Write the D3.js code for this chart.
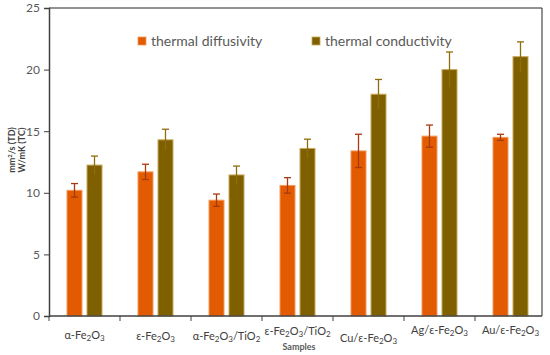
<!DOCTYPE html>
<html>
<head>
<meta charset="utf-8">
<script src="https://cdn.jsdelivr.net/npm/d3@7"></script>
<style>
  body { margin: 0; background: #fff; }
  text { font-family: Lato, "Open Sans", sans-serif; }
</style>
</head>
<body>
<div id="chart"></div>
<script>
// samples, as [text, subscript?] pieces
const samples = [
  [['α-Fe', ''], ['2', 'sub'], ['O', ''], ['3', 'sub']],
  [['ε-Fe', ''], ['2', 'sub'], ['O', ''], ['3', 'sub']],
  [['α-Fe', ''], ['2', 'sub'], ['O', ''], ['3', 'sub'], ['/TiO', ''], ['2', 'sub']],
  [['ε-Fe', ''], ['2', 'sub'], ['O', ''], ['3', 'sub'], ['/TiO', ''], ['2', 'sub']],
  [['Cu/ε-Fe', ''], ['2', 'sub'], ['O', ''], ['3', 'sub']],
  [['Ag/ε-Fe', ''], ['2', 'sub'], ['O', ''], ['3', 'sub']],
  [['Au/ε-Fe', ''], ['2', 'sub'], ['O', ''], ['3', 'sub']]
];
const diffusivity    = [10.2, 11.7, 9.4, 10.6, 13.4, 14.6, 14.5];
const diffusivityErr = [0.55, 0.62, 0.5, 0.63, 1.35, 0.9, 0.25];
const conductivity    = [12.25, 14.3, 11.45, 13.6, 18.0, 20.0, 21.05];
const conductivityErr = [0.73, 0.86, 0.72, 0.75, 1.2, 1.43, 1.2];
const seriesNames = ['thermal diffusivity', 'thermal conductivity'];
const yTicks = [0, 5, 10, 15, 20, 25];

const WIDTH = 550;
const HEIGHT = 355;
const colors = ['#e35b00', '#7f6000'];
const edges = ['#f39a5c', '#c9a85a'];
const errColors = ['#a83a10', '#8f6c0c'];
// small vertical shifts of the category labels, as in the picture
const labelDy = [0, 1, 1, -4, 3, -5, -5];

const svg = d3.select('#chart').append('svg')
  .attr('width', WIDTH)
  .attr('height', HEIGHT);

const x0 = d3.scaleBand().domain(d3.range(samples.length)).range([49, 546]);
const x1 = d3.scaleBand().domain([0, 1]).range([0, 36]).paddingInner(0.2);
const y = d3.scaleLinear().domain([0, 25]).range([316, 8]);

// plot frame (top and right)
svg.append('path')
  .attr('d', `M49,${y(25)}H542V${y(0)}`)
  .attr('fill', 'none')
  .attr('stroke', '#262626')
  .attr('stroke-width', 1);

const rows = samples.map((s, i) => ({
  i,
  vals: [
    { k: 0, v: diffusivity[i], e: diffusivityErr[i] },
    { k: 1, v: conductivity[i], e: conductivityErr[i] }
  ]
}));

const groups = svg.selectAll('.grp')
  .data(rows)
  .enter().append('g')
    .attr('class', 'grp')
    .attr('transform', d => `translate(${x0(d.i) + (x0.bandwidth() - 36) / 2},0)`);

groups.selectAll('rect')
  .data(d => d.vals)
  .enter().append('rect')
    .attr('x', d => x1(d.k) + 0.5)
    .attr('y', d => y(d.v))
    .attr('width', x1.bandwidth() - 1)
    .attr('height', d => y(0) - y(d.v))
    .attr('fill', d => colors[d.k])
    .attr('stroke', d => edges[d.k])
    .attr('stroke-width', 1);

const err = groups.selectAll('.err')
  .data(d => d.vals)
  .enter().append('g')
    .attr('class', 'err')
    .attr('stroke', d => errColors[d.k])
    .attr('stroke-width', 1.3);

err.append('line')
  .attr('x1', d => x1(d.k) + x1.bandwidth() / 2)
  .attr('x2', d => x1(d.k) + x1.bandwidth() / 2)
  .attr('y1', d => y(d.v + d.e))
  .attr('y2', d => y(d.v - d.e));
err.append('line')
  .attr('x1', d => x1(d.k) + x1.bandwidth() / 2 - 3.5)
  .attr('x2', d => x1(d.k) + x1.bandwidth() / 2 + 3.5)
  .attr('y1', d => y(d.v + d.e))
  .attr('y2', d => y(d.v + d.e));
err.filter(d => d.k === 0).append('line')
  .attr('x1', d => x1(d.k) + x1.bandwidth() / 2 - 3.5)
  .attr('x2', d => x1(d.k) + x1.bandwidth() / 2 + 3.5)
  .attr('y1', d => y(d.v - d.e))
  .attr('y2', d => y(d.v - d.e));

// y axis
const yAxis = svg.append('g')
  .attr('transform', 'translate(49,0)')
  .call(d3.axisLeft(y).tickValues(yTicks).tickSize(5).tickPadding(4));
yAxis.select('.domain').attr('stroke', '#404040').attr('stroke-width', 1.5);
yAxis.selectAll('.tick line').attr('stroke', '#404040');
yAxis.selectAll('.tick text')
  .attr('fill', '#595959')
  .style('font-size', '12px')
  .style('font-family', 'Lato, "Open Sans", sans-serif');

// x axis
const xAxis = svg.append('g')
  .attr('transform', `translate(0,${y(0)})`)
  .call(d3.axisBottom(x0).tickSize(0).tickFormat(''));
xAxis.select('.domain').attr('stroke', '#404040').attr('stroke-width', 1.5)
  .attr('d', `M49,0H542`);
svg.append('g').selectAll('line')
  .data(d3.range(samples.length))
  .enter().append('line')
    .attr('x1', i => x0(i))
    .attr('x2', i => x0(i))
    .attr('y1', y(0))
    .attr('y2', y(0) + 5)
    .attr('stroke', '#404040');

const lbl = svg.append('g').selectAll('text')
  .data(samples)
  .enter().append('text')
    .attr('x', (d, i) => x0(i) + x0.bandwidth() / 2)
    .attr('y', (d, i) => 339 + labelDy[i])
    .attr('text-anchor', 'middle')
    .attr('fill', '#404040')
    .style('font-size', '11px');
lbl.selectAll('tspan')
  .data(d => d)
  .enter().append('tspan')
    .attr('baseline-shift', p => p[1] === 'sub' ? '-20%' : null)
    .style('font-size', p => p[1] === 'sub' ? '8px' : null)
    .text(p => p[0]);

// axis titles
svg.append('text')
  .attr('x', 299).attr('y', 350)
  .attr('text-anchor', 'middle')
  .attr('fill', '#595959')
  .style('font-size', '9px')
  .style('font-weight', 'bold')
  .text('Samples');

const yTitle = svg.append('text')
  .attr('transform', 'translate(12,150) rotate(-90)')
  .attr('text-anchor', 'middle')
  .attr('fill', '#404040')
  .style('font-size', '9px')
  .style('font-weight', 'bold');
yTitle.append('tspan').attr('x', 0).attr('dy', '0.35em').text('mm');
yTitle.append('tspan').attr('baseline-shift', 'super').style('font-size', '6px').text('2');
yTitle.append('tspan').text('/s (TD)');
yTitle.append('tspan').attr('x', 0).attr('dy', '1.15em').text('W/mK (TC)');

// legend
const legendX = [138, 312];
const legend = svg.selectAll('.leg')
  .data(seriesNames)
  .enter().append('g')
    .attr('class', 'leg')
    .attr('transform', (d, i) => `translate(${legendX[i]},37)`);
legend.append('rect')
  .attr('width', 8).attr('height', 8)
  .attr('fill', (d, i) => colors[i])
  .attr('stroke', (d, i) => edges[i])
  .attr('stroke-width', 0.8);
legend.append('text')
  .attr('x', 13).attr('y', 8.5)
  .attr('fill', '#595959')
  .style('font-size', '14px')
  .text(d => d);
</script>
</body>
</html>
